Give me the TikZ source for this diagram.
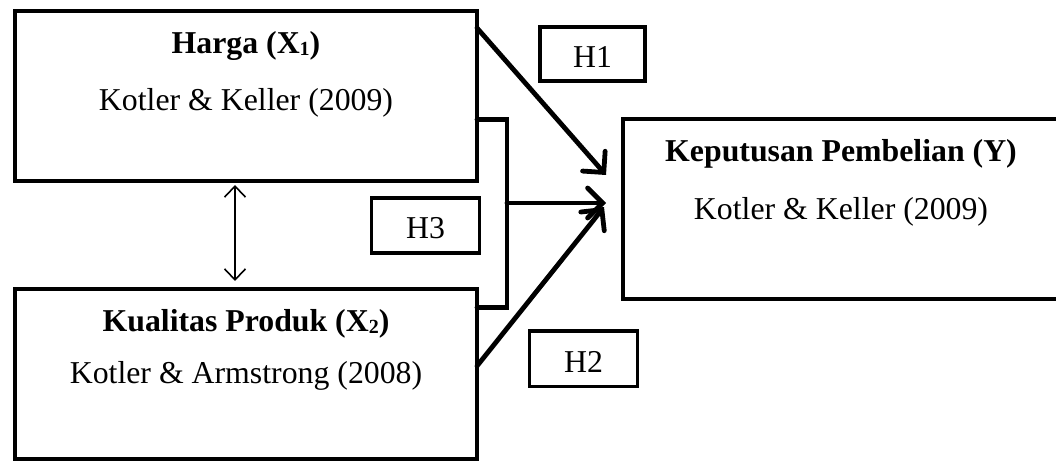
\documentclass[tikz,border=0pt]{standalone}
\usepackage{fontspec}
\setmainfont{Liberation Serif}
\usetikzlibrary{arrows.meta}
\newcommand{\mysub}[1]{\raisebox{-1.5pt}{\fontsize{20}{20}\selectfont #1}}
\begin{document}
\begin{tikzpicture}[x=1pt,y=-1pt,
  box/.style={draw, line width=4pt, rectangle, inner sep=0pt, outer sep=0pt},
  hbox/.style={draw, line width=3.8pt, rectangle, inner sep=0pt, outer sep=0pt,
    text height=27pt, text depth=0pt, font=\fontsize{31.8}{38}\selectfont},
  lbl/.style={anchor=base, inner sep=0pt, font=\fontsize{31.8}{38}\selectfont},
  ttl/.style={anchor=base, inner sep=0pt, font=\fontsize{31.8}{38}\selectfont\bfseries},
  conn/.style={line width=4.8pt, line cap=round, line join=miter},
  arr/.style={conn, -{Straight Barb[length=15pt,width=30pt,line cap=round]}},
  dbl/.style={line width=1.6pt, {Straight Barb[length=11pt,width=21pt]}-{Straight Barb[length=11pt,width=21pt]}}
]
\clip (0,0) rectangle (1056,462);
\fill[white] (0,0) rectangle (1056,462);

% main boxes
\node[box, minimum width=462pt, minimum height=170pt] (x1) at (246,96) {};
\node[box, minimum width=462pt, minimum height=170pt] (x2) at (246,374) {};
\node[box, minimum width=439pt, minimum height=179.5pt] (y) at (842.5,209.25) {};

% texts
\node[ttl] (x1t) at (246,54) {Harga (X\mysub{1})};
\node[lbl] (x1r) at (246,111) {Kotler \& Keller (2009)};
\node[ttl] (x2t) at (246,331.5) {Kualitas Produk (X\mysub{2})};
\node[lbl] (x2r) at (246,383) {Kotler \& Armstrong (2008)};
\node[ttl] (yt) at (841,162) {Keputusan Pembelian (Y)};
\node[lbl] (yr) at (841,219) {Kotler \& Keller (2009)};

% hypothesis labels
\node[hbox, minimum width=105pt, minimum height=54pt] (h1) at (592.5,54) {H1};
\node[hbox, minimum width=108pt, minimum height=55pt] (h3) at (425.5,225.5) {H3};
\node[hbox, minimum width=108pt, minimum height=55.5pt] (h2) at (583.5,358.75) {H2};

% coordinates
\coordinate (s1) at (477,28);
\coordinate (s2) at (477,366);
\coordinate (b1) at (507,119.5);
\coordinate (b2) at (507,307.5);
\coordinate (bm) at (507,203);
\coordinate (t1) at (606,175);
\coordinate (t3) at (606,203);
\coordinate (t2) at (604,207);
\coordinate (dax) at (235,0);

% bracket (H3)
\draw[conn] (x1.east |- b1) -- (b1) -- (b2) -- (x2.east |- b2);
\draw[arr] (bm) -- (t3);
% H1 and H2 arrows
\draw[arr] (s1) -- (t1);
\draw[arr] (s2) -- (t2);
% correlation
\draw[dbl] ([yshift=-4pt]x1.south -| dax) -- ([yshift=8pt]x2.north -| dax);
\end{tikzpicture}
\end{document}
